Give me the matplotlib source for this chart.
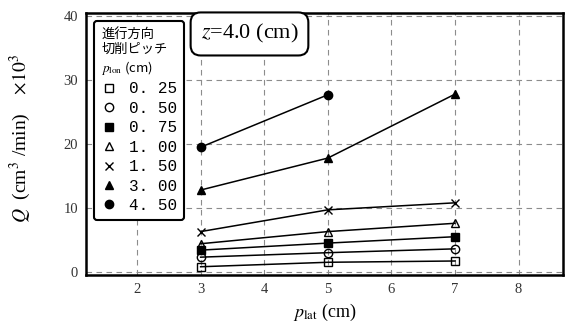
import matplotlib
matplotlib.use("Agg")
import matplotlib.pyplot as plt

plt.rcParams['font.family'] = ['Liberation Serif', 'Noto Sans CJK JP']
plt.rcParams['mathtext.fontset'] = 'stix'

# data
p_lat = [3, 5, 7]
q_025 = [0.8, 1.5, 1.7]
q_050 = [2.3, 3.0, 3.6]
q_075 = [3.4, 4.5, 5.5]
q_100 = [4.4, 6.3, 7.6]
q_150 = [6.3, 9.7, 10.8]
q_300 = [12.8, 17.8, 27.8]
q_450 = [19.5, 27.7]

series = [
    (p_lat, q_025, "s", "none", "0. 25"),
    (p_lat, q_050, "o", "none", "0. 50"),
    (p_lat, q_075, "s", "black", "0. 75"),
    (p_lat, q_100, "^", "none", "1. 00"),
    (p_lat, q_150, "x", "none", "1. 50"),
    (p_lat, q_300, "^", "black", "3. 00"),
    (p_lat[:2], q_450, "o", "black", "4. 50"),
]

fig = plt.figure(figsize=(5.67, 3.33), dpi=100)
ax = fig.add_axes([0.152, 0.174, 0.841, 0.787])

for x, y, m, fc, lab in series:
    ax.plot(x, y, color="black", lw=1.1, marker=m, markersize=6,
            markerfacecolor=fc, markeredgecolor="black", markeredgewidth=1.0,
            label=lab)

ax.set_xlim(1.2, 8.7)
ax.set_ylim(-0.5, 40.5)
ax.set_xticks([2, 3, 4, 5, 6, 7, 8])
ax.set_yticks([0, 10, 20, 30, 40])
ax.grid(True, linestyle=(0, (5, 4)), color="0.55", lw=0.8)
ax.tick_params(length=0, labelsize=10.5, colors="0.2", pad=6)
for s in ax.spines.values():
    s.set_linewidth(1.8)

ax.set_xlabel(r"$p_{\rm lat}$ (cm)", fontsize=13, labelpad=4)
ax.set_ylabel(r"$Q$  (cm$^3$ /min)    $\times10^3$", fontsize=14)
ax.yaxis.set_label_coords(-0.112, 0.52)

leg = ax.legend(loc="upper left", bbox_to_anchor=(0.0, 1.0),
                title="進行方向\n切削ピッチ\n$p_{\\rm lon}$ (cm)",
                prop={"family": ["Liberation Mono"], "size": 11.5},
                title_fontproperties={"family": ["Noto Sans CJK JP", "DejaVu Sans"], "size": 9.5},
                frameon=True, fancybox=True, framealpha=1, edgecolor="black",
                handlelength=1.0, handletextpad=0.7, labelspacing=0.28,
                borderpad=0.45, alignment="left")
leg.get_frame().set_linewidth(1.5)
for h in leg.legend_handles:
    h.set_linestyle("none")

ax.text(0.24, 0.92, "$z$=4.0 (cm)", transform=ax.transAxes, fontsize=16,
        ha="left", va="center",
        bbox=dict(boxstyle="round,pad=0.45", fc="white", ec="black", lw=1.5))

fig.savefig("out.png", dpi=100)
